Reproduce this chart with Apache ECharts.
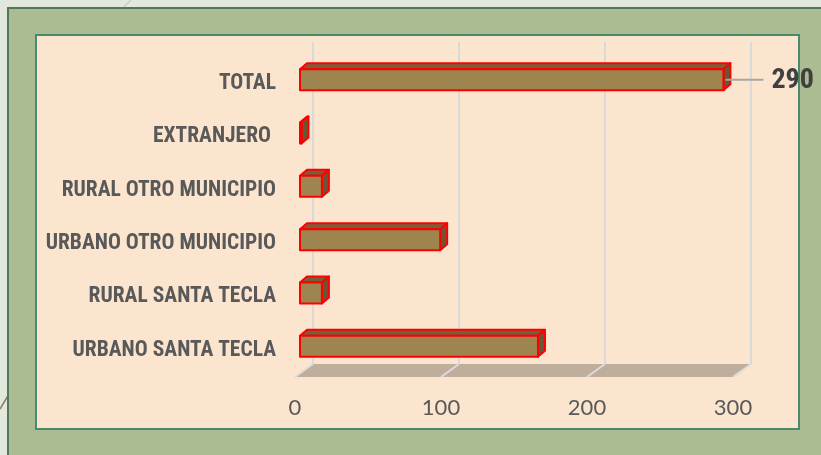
<!DOCTYPE html>
<html>
<head>
<meta charset="utf-8">
<script src="https://cdn.jsdelivr.net/npm/echarts@6/dist/echarts.min.js"></script>
<style>
  html, body { margin: 0; padding: 0; background: #e3e8dc; }
  #main { width: 821px; height: 455px; }
</style>
</head>
<body>
<div id="main"></div>
<script type="text/javascript">
// datos del grafico
var categories = ['TOTAL', 'EXTRANJERO ', 'RURAL OTRO MUNICIPIO', 'URBANO OTRO MUNICIPIO', 'RURAL SANTA TECLA', 'URBANO SANTA TECLA'];
var values = [290, 1, 15, 96, 15, 163];
var ticks = [0, 100, 200, 300];
var labelled = ['TOTAL'];

var narrow = "'Liberation Sans Narrow', 'Arial Narrow', 'Roboto Condensed', sans-serif";
var axisMin = ticks[0], axisMax = ticks[ticks.length - 1], step = ticks[1] - ticks[0];

var myChart = echarts.init(document.getElementById('main'));

// caras de la barra 3D
function renderBar(params, api) {
    var v = api.value(0), c = api.value(1);
    var a = api.coord([0, c]), b = api.coord([v, c]);
    var h = 21, dx = 7, dy = -6;
    var x0 = a[0], x1 = b[0], yt = a[1] - h / 2, yb = a[1] + h / 2;
    var edge = {stroke: '#ff0000', lineWidth: 2, lineJoin: 'round'};
    var kids = [
        {type: 'polygon', shape: {points: [[x0, yt], [x0 + dx, yt + dy], [x1 + dx, yt + dy], [x1, yt]]},
         style: Object.assign({fill: '#74603c'}, edge)},
        {type: 'polygon', shape: {points: [[x1, yt], [x1 + dx, yt + dy], [x1 + dx, yb + dy], [x1, yb]]},
         style: Object.assign({fill: '#6a5636'}, edge)},
        {type: 'rect', shape: {x: x0, y: yt, width: x1 - x0, height: h},
         style: Object.assign({fill: '#9e844f'}, edge)}
    ];
    if (labelled.indexOf(categories[c]) >= 0) {
        kids.push({type: 'line', shape: {x1: x1 + 2, y1: a[1], x2: x1 + 40, y2: a[1]},
                   style: {stroke: '#a6a6a6', lineWidth: 2}});
        kids.push({type: 'text', x: x1 + 48, y: a[1] + 1,
                   style: {text: String(v), fill: '#404040', font: 'bold 28px ' + narrow,
                           textAlign: 'left', textVerticalAlign: 'middle'}});
    }
    return {type: 'group', children: kids};
}

// piso
function renderFloor(params, api) {
    var dx = 18, dy = -13;
    var p0 = api.coord([axisMin, 0]), p1 = api.coord([axisMax, 0]);
    var kids = [{type: 'polygon',
                 shape: {points: [[p0[0], p0[1]], [p0[0] + dx, p0[1] + dy], [p1[0] + dx, p1[1] + dy], [p1[0], p1[1]]]},
                 style: {fill: '#bfae9b'}}];
    ticks.forEach(function (t) {
        var p = api.coord([t, 0]);
        kids.push({type: 'line', shape: {x1: p[0], y1: p[1], x2: p[0] + dx, y2: p[1] + dy},
                   style: {stroke: '#dcdcdc', lineWidth: 2}});
    });
    return {type: 'group', children: kids};
}

var option = {
    backgroundColor: '#e3e8dc',
    animation: false,
    graphic: [
        {type: 'line', z: -10, shape: {x1: 122, y1: 9, x2: 131, y2: 0}, style: {stroke: '#c9cdc2', lineWidth: 1.5}},
        {type: 'line', z: -10, shape: {x1: 0, y1: 409, x2: 9, y2: 394}, style: {stroke: '#8a7f5e', lineWidth: 1.5}},
        {type: 'rect', z: -9, shape: {x: 8, y: 8, width: 830, height: 460},
         style: {fill: '#abbb92', stroke: '#4d7a5c', lineWidth: 2}},
        {type: 'rect', z: -8, shape: {x: 36, y: 35, width: 763, height: 394},
         style: {fill: '#fbe5cf', stroke: '#4a8a6c', lineWidth: 2}}
    ],
    grid: [
        {left: 300, top: 53, width: 438, height: 320},
        {left: 295, top: 53, width: 438, height: 324},
        {left: 313, top: 42, width: 438, height: 322}
    ],
    xAxis: [
        {gridIndex: 0, type: 'value', min: axisMin, max: axisMax, interval: step, show: false},
        {gridIndex: 1, type: 'value', min: axisMin, max: axisMax, interval: step,
         axisLine: {show: false}, axisTick: {show: false}, splitLine: {show: false},
         axisLabel: {color: '#595959', fontSize: 22, fontFamily: 'Lato', margin: 20}},
        {gridIndex: 2, type: 'value', min: axisMin, max: axisMax, interval: step,
         axisLine: {show: false}, axisTick: {show: false}, axisLabel: {show: false},
         splitLine: {show: true, lineStyle: {color: '#d9d9d9', width: 2}}}
    ],
    yAxis: [
        {gridIndex: 0, type: 'category', inverse: true, data: categories,
         axisLine: {show: false}, axisTick: {show: false},
         axisLabel: {margin: 24,
                     formatter: function (s) { return '{c|' + s + '}'; },
                     rich: {c: {color: '#595959', fontSize: 21.5, fontWeight: 'bold', fontFamily: narrow,
                                padding: [8, 0, 0, 0]}}}},
        {gridIndex: 1, type: 'value', min: 0, max: 1, show: false},
        {gridIndex: 2, type: 'value', min: 0, max: 1, show: false}
    ],
    series: [
        {type: 'custom', xAxisIndex: 1, yAxisIndex: 1, z: 1, data: [[0]], renderItem: renderFloor},
        {type: 'custom', xAxisIndex: 0, yAxisIndex: 0, z: 5,
         data: values.map(function (v, i) { return [v, i]; }),
         encode: {x: 0, y: 1}, renderItem: renderBar}
    ]
};
myChart.setOption(option);
</script>
</body>
</html>
